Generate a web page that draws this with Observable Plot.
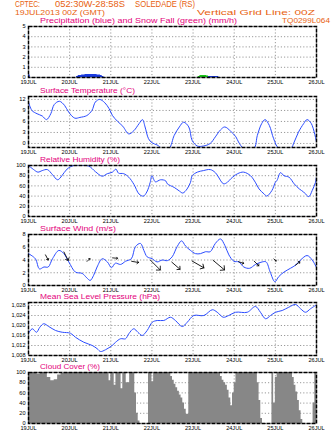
<!DOCTYPE html>
<html><head><meta charset="utf-8">
<script src="https://cdn.jsdelivr.net/npm/d3@7"></script>
<script src="https://cdn.jsdelivr.net/npm/@observablehq/plot@0.6"></script>
<style>
html,body{margin:0;padding:0;background:#fff;}
#wrap{position:relative;width:336px;height:435px;overflow:hidden;font-family:"Liberation Sans",Arial,sans-serif;}
#wrap svg{position:absolute;left:0;}
</style></head><body><div id="wrap"></div>
<script>
// ---- data (hours since 19JUL2013 00Z) ----
const dayTicks = [0, 24, 48, 72, 96, 120, 144, 168];
const dayLabels = ["19JUL", "20JUL", "21JUL", "22JUL", "23JUL", "24JUL", "25JUL", "26JUL"];

const precipHours = [0, 1, 28, 29, 31, 33, 40, 42, 43, 44, 105, 111];
const precipValues = [0.25, 0, 0.1, 0.2, 0.25, 0.3, 0.25, 0.2, 0.1, 0, 0.1, 0];
const snowHours = [99, 100, 104, 105];
const snowValues = [0.1, 0.2, 0.15, 0];
const precipTicks = [0, 1, 2, 3, 4, 5];

const tempHours = [0,2,5,8,10.5,13,15,18,21,23.5,27,30,34,37,39,41.5,44.5,47,49,52,55,58.5,61.5,64.5,66.5,68,70,72,75,78,82,85,88,90.5,93.5,95.5,98.5,102,106,109,112,114.5,118,121,122.5,125.5,131.5,133.5,136,138,140.5,143,146,153,155,157.5,160.5,162.5,165,168];
const tempValues = [11.3,9.0,8.1,7.5,6.5,8.1,10.6,11.5,10.4,8.5,6.9,7.1,7.6,9.0,11.3,12.0,11.1,9.5,7.6,6.0,4.7,2.6,3.5,5.4,6.5,4.5,1.3,0.2,-0.4,-1.3,-1.3,2.2,4.5,5.8,4.5,0.8,-0.7,-0.7,0.0,1.8,3.7,4.5,3.3,1.8,0.4,-1.3,-1.3,2.2,5.4,6.5,4.9,1.3,-1.3,-1.3,0.4,3.1,5.4,6.5,5.4,0.4];
const tempTicks = [0, 3, 6, 9, 12];

const rhHours = [0,3,5.5,8,11,14,17,19.5,22.5,26.5,35,39,43,46,49,51,52.5,55.5,58.5,61.5,64.5,67,69,71,72,74,77,80,81,85,88,90,92.5,94.5,95.5,98.5,102,106,109,113,114,116,118,122,125.5,129.5,132.5,134.5,137.5,139,142,144,145,147,149,152,155,158,160.5,163.5,165.5,167.4,168];
const rhValues = [100,92,87,90,92,82,72,80,93,100,99,88,79,84,87,93,85,84,77,63,44,40,48,67,80,68,72,70,64,57,50,46,54,67,80,87,90,92,86,66,64,67,74,84,87,80,66,54,44,40,51,67,71,86,80,77,64,54,48,39,51,67,78];
const rhTicks = [0, 20, 40, 60, 80, 100];

const windHours = [0,4,6.4,9,11.5,14,17.7,20.6,23.5,27.4,31.3,34,36,38,40,43,46,48.4,50.7,53.7,56.6,60,62.4,65.3,67.3,69.2,72.2,75,78,81,83.8,86.7,89.3,91.6,94.5,97.4,100.3,103.3,106,109,112,114.5,116.9,119.8,122.7,125.6,129,132.4,136.3,138.6,141,143.7,146,149,152.8,155.8,158.7,162.5,165.5,168];
const windValues = [5.0,4.2,2.6,2.9,2.9,4.2,5.5,5.0,3.7,2.1,1.9,1.2,0.8,1.6,2.9,4.2,3.7,2.8,3.5,3.3,3.8,4.2,6.1,6.6,5.5,4.5,4.2,3.7,4.0,3.9,4.5,6.1,7.0,6.2,5.5,5.0,5.0,5.3,5.3,6.6,7.3,6.3,4.8,3.8,3.7,2.9,2.7,3.3,3.7,3.7,2.1,0.6,1.4,2.1,2.7,3.2,4.0,4.7,4.0,2.8];
const windTicks = [0, 2, 4, 6, 8];
const arrowHours = [10.7, 21.9, 35, 50.5, 62.2, 74, 86, 98.9, 111, 124, 133, 143.8, 157];
const arrowLevel = [4.4, 4.6, 4.0, 4.3, 3.7, 3.2, 3.1, 3.3, 3.2, 3.6, 3.45, 4.0, 3.45];
const arrowDir = [152, 153, 45, 95, 100, 135, 131, 120, 130, 109, 135, 131, 52];
const arrowSpeed = [2.9, 4.7, 2, 2.5, 3.5, 7, 5.5, 6.8, 7.5, 2.7, 3.3, 1.5, 2.8];

const presHours = [0,2.2,4.7,6.6,8.9,11.8,15.8,19.7,24.5,27.4,32.3,37.2,40.1,42,44.9,48.8,50.8,53.7,56.6,58.5,61.4,63.8,66.3,69.2,72.2,75.1,78.9,82.8,85.7,89.7,92.6,96.4,102.3,107.2,110.1,113.6,116.8,120.8,127.6,132.4,135.3,138.3,141.2,144.1,148,151.8,155.8,158.7,161.6,164.5,168];
const presValues = [1016.9,1018.7,1017.3,1019.3,1020.7,1019.6,1018,1017.3,1016.9,1015.3,1013.3,1012,1010.7,1009.6,1010.3,1012,1013.3,1014.7,1014.7,1016.7,1018.7,1017.3,1016,1018,1021.3,1022,1022,1023.3,1022,1019.6,1021.3,1024,1024,1026.3,1025.3,1023.3,1024,1025.3,1025.3,1027.6,1025.3,1022.7,1024,1025.3,1026,1027.3,1028.4,1026.7,1025.3,1026.7,1028.3];
const presTicks = [1008, 1012, 1016, 1020, 1024, 1028];

const cloudHours = [0,5,7,11,13,15,17,19,22,47,48,50,51,54,55,57,59,62,63,64,65,70,72,73,83,84,85,86,87,88,89,90,91,92,93.5,112,113,114,115,116,117,118,119,120,121,133.5,134.5,135.5,136.5,142,143,144,145,154,155,156,157,158,159,160,166,167,168];
const cloudValues = [100,97,100,90,84,86,95,98,100,84,100,75,100,68,100,80,100,60,20,5,0,100,82,100,92,85,77,70,63,56,50,40,28,18,100,92,85,80,75,65,50,35,60,80,100,80,45,10,0,100,40,90,100,90,75,62,45,25,8,0,40,100,100];
const cloudTicks = [0, 20, 40, 60, 80, 100];

// ---- drawing ----
const wrap = document.getElementById("wrap");
const BLUE = "#2b4cff", MAGENTA = "#e4007c", ORANGE = "#e8620f";
const FONT = "'Liberation Sans', Arial, sans-serif";
const zip = (h, v) => h.map((d, i) => ({h: d, v: v[i]}));

function panel(frameTop, frameH, domain, ticks, marks) {
  const mt = 4, mb = 11;
  const svg = Plot.plot({
    width: 336, height: frameH + mt + mb,
    marginLeft: 28, marginRight: 20, marginTop: mt, marginBottom: mb,
    x: {domain: [0, 168]},
    y: {domain, ticks},
    length: {type: "linear", domain: [0, 10], range: [0, 20]},
    style: {background: "transparent", fontSize: "5.6px", fontFamily: FONT, color: "#000", overflow: "visible"},
    marks: [
      Plot.frame({fill: "#fff"}),
      Plot.gridX(dayTicks, {stroke: "#9a9a9a", strokeOpacity: 1, strokeDasharray: "1.2,2"}),
      Plot.gridY(ticks, {stroke: "#9a9a9a", strokeOpacity: 1, strokeDasharray: "1.2,2"}),
      ...marks,
      Plot.frame({stroke: "#000", strokeWidth: 1.5, strokeDasharray: "4,1"}),
      Plot.axisX(dayTicks, {tickSize: 0, tickPadding: 2.5, label: null, fontSize: 5.6, tickFormat: d => dayLabels[d / 24]}),
      Plot.axisY(ticks, {tickSize: 0, tickPadding: 3, label: null, fontSize: 5.6})
    ]
  });
  svg.style.top = (frameTop - mt) + "px";
  wrap.appendChild(svg);
}

panel(26, 51, [0, 5], precipTicks, [
  Plot.areaY(zip(precipHours, precipValues), {x: "h", y: "v", curve: "step-after", fill: "#1a3be0"}),
  Plot.areaY(zip(snowHours, snowValues), {x: "h", y: "v", curve: "step-after", fill: "#19c419"})
]);
panel(96, 51, [-1.1, 12.8], tempTicks, [
  Plot.line(zip(tempHours, tempValues), {x: "h", y: "v", stroke: BLUE, strokeWidth: 1, curve: "catmull-rom", clip: true})
]);
panel(165, 51, [0, 100], rhTicks, [
  Plot.line(zip(rhHours, rhValues), {x: "h", y: "v", stroke: BLUE, strokeWidth: 1, curve: "catmull-rom", clip: true})
]);
panel(234, 51, [0, 8], windTicks, [
  Plot.line(zip(windHours, windValues), {x: "h", y: "v", stroke: BLUE, strokeWidth: 1, curve: "catmull-rom", clip: true}),
  Plot.vector(arrowHours.map((h, i) => ({h, v: arrowLevel[i], r: arrowDir[i], s: arrowSpeed[i]})),
    {x: "h", y: "v", rotate: "r", length: "s", anchor: "middle", stroke: "#000", strokeWidth: 0.8})
]);
panel(302, 53, [1008, 1029.2], presTicks, [
  Plot.line(zip(presHours, presValues), {x: "h", y: "v", stroke: BLUE, strokeWidth: 1, curve: "catmull-rom", clip: true})
]);
panel(372, 51, [0, 100], cloudTicks, [
  Plot.areaY(zip(cloudHours, cloudValues), {x: "h", y: "v", curve: "step-after", fill: "#878787"})
]);

// ---- titles ----
const titles = [
  {t: "CPTEC:", x: 15, y: 7.3, w: 25, c: ORANGE, s: 8.5},
  {t: "052:30W-28:58S", x: 55, y: 7.3, w: 70, c: ORANGE, s: 8.5},
  {t: "SOLEDADE (RS)", x: 135, y: 7.3, w: 60, c: ORANGE, s: 8.5},
  {t: "19JUL2013 00Z (GMT)", x: 15, y: 15.2, w: 90, c: ORANGE, s: 6.5},
  {t: "Vertical Grid Line: 00Z", x: 197, y: 15.2, w: 118, c: ORANGE, s: 6.5},
  {t: "Precipitation (blue) and Snow Fall (green) (mm/h)", x: 40, y: 23, w: 197, c: MAGENTA, s: 7},
  {t: "TQ0299L064", x: 282, y: 23, w: 48, c: ORANGE, s: 7},
  {t: "Surface Temperature (°C)", x: 40, y: 92.8, w: 95, c: MAGENTA, s: 8},
  {t: "Relative Humidity (%)", x: 40, y: 161.8, w: 80, c: MAGENTA, s: 8},
  {t: "Surface Wind (m/s)", x: 40, y: 230.8, w: 76, c: MAGENTA, s: 8},
  {t: "Mean Sea Level Pressure (hPa)", x: 40, y: 299.3, w: 120, c: MAGENTA, s: 7.6},
  {t: "Cloud Cover (%)", x: 40, y: 369.3, w: 60, c: MAGENTA, s: 7.6}
];
const ns = "http://www.w3.org/2000/svg";
const over = document.createElementNS(ns, "svg");
over.setAttribute("width", 336); over.setAttribute("height", 435);
over.style.top = "0px"; over.style.pointerEvents = "none";
for (const d of titles) {
  const t = document.createElementNS(ns, "text");
  t.setAttribute("x", d.x); t.setAttribute("y", d.y);
  t.setAttribute("fill", d.c); t.setAttribute("font-size", d.s);
  t.setAttribute("font-family", FONT);
  t.setAttribute("textLength", d.w); t.setAttribute("lengthAdjust", "spacingAndGlyphs");
  t.textContent = d.t;
  over.appendChild(t);
}
wrap.appendChild(over);
</script>
</body></html>
